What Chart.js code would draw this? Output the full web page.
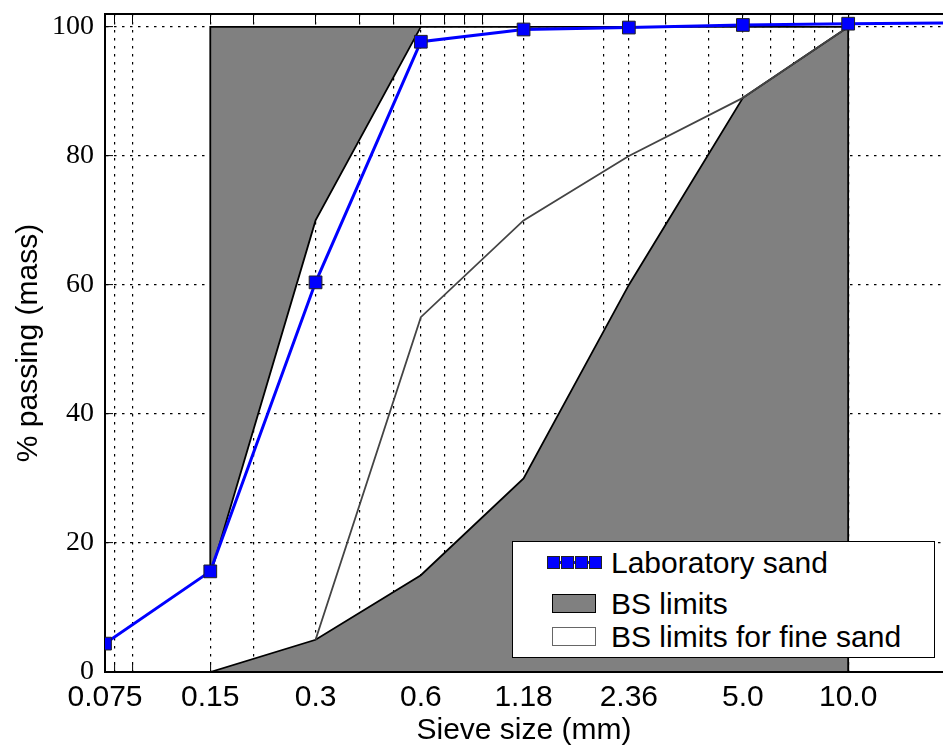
<!DOCTYPE html>
<html>
<head>
<meta charset="utf-8">
<title>Sieve analysis</title>
<script src="https://cdn.jsdelivr.net/npm/chart.js@4.4.1/dist/chart.umd.min.js"></script>
<style>
  body { margin: 0; background: #fff; }
  #wrap { position: relative; width: 943px; height: 746px; }
  #legend {
    position: absolute; left: 512px; top: 541px; width: 421px; height: 115px;
    border: 1.5px solid #000; background: #fff;
    font-family: "Liberation Sans", Arial, sans-serif; font-size: 30px; color: #000;
  }
  #legend .row { position: absolute; left: 0; height: 33px; display: flex; align-items: center; white-space: nowrap; }
  #legend .icon { width: 60px; margin-left: 33px; margin-right: 5px; display: flex; align-items: center; justify-content: center; position: relative; height: 33px; }
  #legend .sq { width: 11px; height: 11px; background: #0000ff; border: 1px solid #222; margin: 0 0.5px; position: relative; z-index: 1; }
  #legend .line { position: absolute; left: 2px; right: 5px; top: 15px; height: 3px; background: #0000ff; }
  #legend .box { width: 42px; height: 17px; margin-right: 5px; }
</style>
</head>
<body>
<div id="wrap">
  <canvas id="mycanvas" width="943" height="746"></canvas>
  <div id="legend"></div>
</div>
<script>
// sieve sizes (mm) and % passing
var sieveSizes = [0.075, 0.15, 0.3, 0.6, 1.18, 2.36, 5.0, 10.0, 20.0];
var labSand    = [4.4, 15.6, 60.4, 97.7, 99.6, 99.9, 100.3, 100.5, 100.6];

// BS 882 overall limits
var bsSizes = [0.15, 0.3, 0.6, 1.18, 2.36, 5.0, 10.0];
var bsLower = [0, 5, 15, 30, 60, 89, 100];
var bsUpper = [15, 70, 100, 100, 100, 100, 100];

// BS limits for fine sand (lower edge)
var fineSizes = [0.3, 0.6, 1.18, 2.36, 5.0, 10.0];
var fineLower = [5, 55, 70, 80, 89, 100];

var xTickValues = [0.075, 0.15, 0.3, 0.6, 1.18, 2.36, 5.0, 10.0];
var xTickLabels = ['0.075', '0.15', '0.3', '0.6', '1.18', '2.36', '5.0', '10.0'];
var xMinorTicks = [0.08, 0.09, 0.2, 0.3, 0.4, 0.5, 0.6, 0.7, 0.8, 0.9, 2, 3, 4, 5, 6, 7, 8, 9];
var yTickValues = [0, 20, 40, 60, 80, 100];

var xMin = 0.075, xMax = 18.67, yMin = 0, yMax = 102;

function pts(xs, ys) {
  return xs.map(function(x, i) { return {x: x, y: ys[i]}; });
}

var allXTicks = xTickValues.concat(xMinorTicks)
  .filter(function(v, i, a) { return a.indexOf(v) === i; })
  .sort(function(a, b) { return a - b; });

var full = Math.max.apply(null, bsUpper);
var last = bsSizes.length - 1;

// region above the upper limit, closed along the 100 % line
var upperShape = pts(bsSizes, bsUpper).concat([
  {x: bsSizes[0], y: full},
  {x: bsSizes[0], y: bsUpper[0]}
]);
// region below the lower limit, closed along 0 %
var lowerShape = pts(bsSizes, bsLower).concat([
  {x: bsSizes[last], y: 0},
  {x: bsSizes[0], y: 0}
]);

var sansFont = '"Liberation Sans", Arial, sans-serif';
var serifFont = '"Liberation Serif", "Times New Roman", serif';

var chartdata = {
  datasets: [
    {
      label: 'Laboratory sand',
      legendIcon: 'markers',
      data: pts(sieveSizes, labSand),
      borderColor: '#0000ff',
      backgroundColor: '#0000ff',
      borderWidth: 3,
      pointStyle: 'rect',
      pointRadius: 9,
      pointBackgroundColor: '#0000ff',
      pointBorderColor: '#222222',
      pointBorderWidth: 1,
      fill: false,
      tension: 0
    },
    {
      label: 'BS limits for fine sand',
      legendIcon: {fill: '#ffffff', edge: '#666666'},
      data: pts(fineSizes, fineLower),
      borderColor: '#444444',
      borderWidth: 1.8,
      pointRadius: 0,
      fill: false
    },
    {
      label: 'BS limits',
      legendIcon: {fill: '#808080', edge: '#000000'},
      data: upperShape,
      borderColor: '#000000',
      backgroundColor: '#808080',
      borderWidth: 1.8,
      pointRadius: 0,
      fill: 'shape'
    },
    {
      label: 'BS limits',
      data: lowerShape,
      borderColor: '#000000',
      backgroundColor: '#808080',
      borderWidth: 1.8,
      pointRadius: 0,
      fill: 'shape'
    }
  ]
};

var gridStyle = {color: '#000000', lineWidth: 1.2, tickLength: -8, tickColor: '#000000', tickWidth: 1};
var borderStyle = {color: '#000000', width: 2, dash: [2.5, 5.5]};

// fixed axis sizes, no extra room for overhanging labels
function fixSize(size) {
  return function(scale) {
    if (scale.isHorizontal()) scale.height = size; else scale.width = size;
    scale.paddingLeft = 0;
    scale.paddingRight = 0;
    scale.paddingTop = 0;
    scale.paddingBottom = 0;
  };
}

var ctx = document.getElementById('mycanvas');

var LineGraph = new Chart(ctx, {
  type: 'line',
  data: chartdata,
  options: {
    responsive: false,
    devicePixelRatio: 1,
    animation: false,
    events: [],
    layout: { autoPadding: false, padding: {top: 14, left: 0, right: 0, bottom: 0} },
    plugins: {
      legend: { display: false },
      tooltip: { enabled: false }
    },
    scales: {
      x: {
        type: 'logarithmic',
        position: 'bottom',
        min: xMin,
        max: xMax,
        z: 1,
        afterBuildTicks: function(scale) {
          scale.ticks = allXTicks.map(function(v) { return {value: v}; });
        },
        afterFit: fixSize(74),
        ticks: {
          autoSkip: false,
          maxRotation: 0,
          minRotation: 0,
          padding: 16,
          color: '#000000',
          font: {family: sansFont, size: 30},
          callback: function(value) {
            var i = xTickValues.indexOf(value);
            return i >= 0 ? xTickLabels[i] : '';
          }
        },
        grid: gridStyle,
        border: borderStyle,
        title: {
          display: true,
          text: 'Sieve size (mm)',
          color: '#000000',
          font: {family: sansFont, size: 30, lineHeight: 1},
          padding: 0
        }
      },
      x2: {
        type: 'logarithmic',
        position: 'top',
        min: xMin,
        max: xMax,
        z: 1,
        afterBuildTicks: function(scale) {
          scale.ticks = allXTicks.map(function(v) { return {value: v}; });
        },
        afterFit: fixSize(0),
        ticks: { display: false },
        grid: {drawOnChartArea: false, tickLength: -8, tickColor: '#000000', tickWidth: 1},
        border: {color: '#000000', width: 2}
      },
      y: {
        type: 'linear',
        position: 'left',
        min: yMin,
        max: yMax,
        z: 1,
        afterBuildTicks: function(scale) {
          scale.ticks = yTickValues.map(function(v) { return {value: v}; });
        },
        afterFit: fixSize(105),
        ticks: {
          padding: 19,
          color: '#000000',
          font: {family: serifFont, size: 28}
        },
        grid: gridStyle,
        border: borderStyle,
        title: {
          display: true,
          text: '% passing (mass)',
          color: '#000000',
          font: {family: sansFont, size: 30, lineHeight: 1},
          padding: {top: 14, bottom: 0}
        }
      }
    }
  }
});

// legend box drawn over the plot, built from the datasets
var legendEl = document.getElementById('legend');
var rowTops = [4, 45, 78];
var seen = [];
var order = [0, 2, 1];
order.forEach(function(di, r) {
  var ds = chartdata.datasets[di];
  if (seen.indexOf(ds.label) >= 0) return;
  seen.push(ds.label);
  var row = document.createElement('div');
  row.className = 'row';
  row.style.top = rowTops[r] + 'px';
  var icon = document.createElement('div');
  icon.className = 'icon';
  if (ds.legendIcon === 'markers') {
    var ln = document.createElement('div');
    ln.className = 'line';
    icon.appendChild(ln);
    for (var k = 0; k < 4; k++) {
      var sq = document.createElement('div');
      sq.className = 'sq';
      icon.appendChild(sq);
    }
    icon.style.justifyContent = 'flex-start';
  } else {
    var bx = document.createElement('div');
    bx.className = 'box';
    bx.style.background = ds.legendIcon.fill;
    bx.style.border = '1.5px solid ' + ds.legendIcon.edge;
    icon.appendChild(bx);
  }
  var txt = document.createElement('span');
  txt.textContent = ds.label;
  row.appendChild(icon);
  row.appendChild(txt);
  legendEl.appendChild(row);
});
</script>
</body>
</html>
